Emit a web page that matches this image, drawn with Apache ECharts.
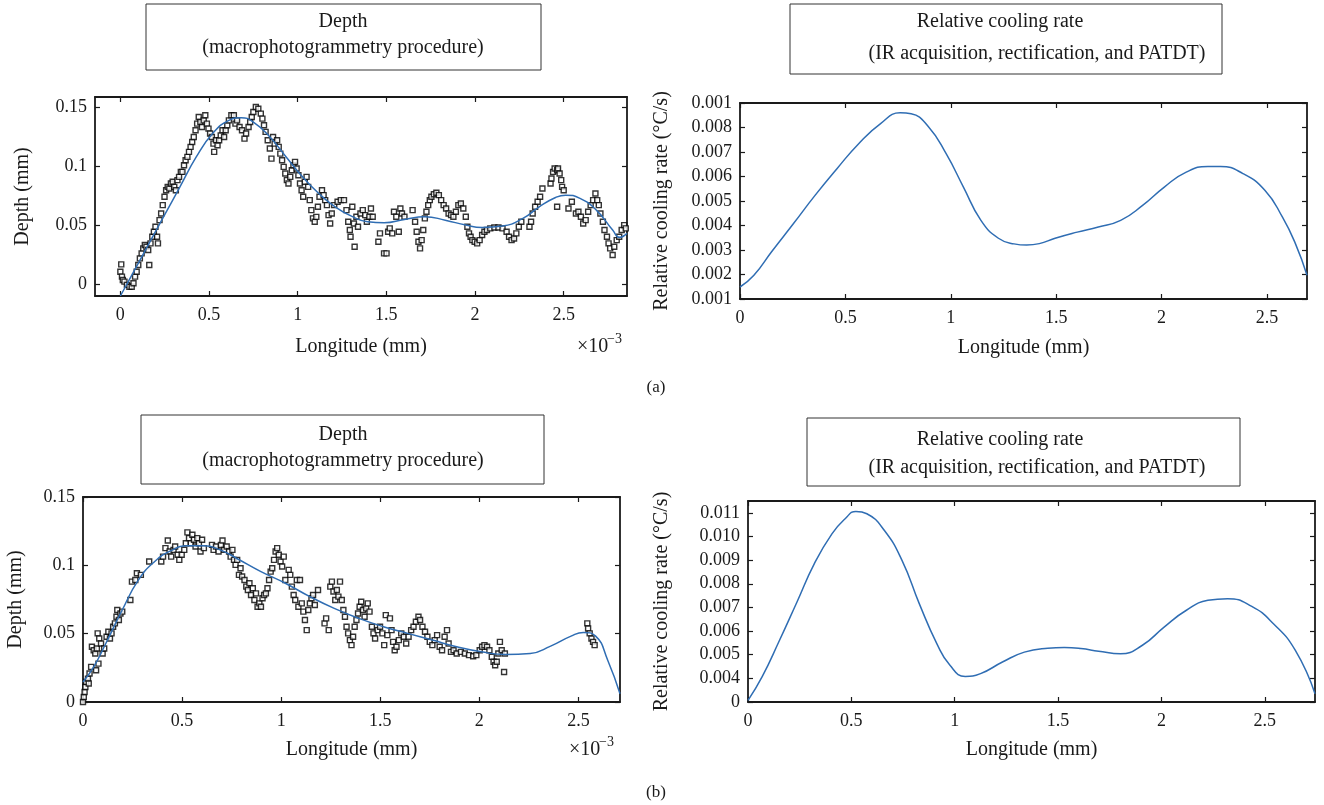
<!DOCTYPE html>
<html>
<head>
<meta charset="utf-8">
<title>Depth and relative cooling rate</title>
<script src="https://cdn.jsdelivr.net/npm/echarts@6/dist/echarts.min.js"></script>
<style>
html, body { margin: 0; padding: 0; background: #fff; }
#chart { width: 1324px; height: 805px; }
</style>
</head>
<body>
<div id="chart"></div>
<script>
// tick values and their printed labels
var longTicks = [0, 0.5, 1, 1.5, 2, 2.5];
var depthTicks = [0, 0.05, 0.1, 0.15];
var depthLabels = ['0', '0.05', '0.1', '0.15'];
var rateTicksA = [0.001, 0.002, 0.003, 0.004, 0.005, 0.006, 0.007, 0.008, 0.009];
var rateLabelsA = ['0.001', '0.002', '0.003', '0.004', '0.005', '0.006', '0.007', '0.008', '0.001'];
var rateTicksB = [0.003, 0.004, 0.005, 0.006, 0.007, 0.008, 0.009, 0.010, 0.011];
var rateLabelsB = ['0', '0.004', '0.005', '0.006', '0.007', '0.008', '0.009', '0.010', '0.011'];

// (a) measured depth points, longitude in 1e-3 mm, depth in mm
var aDepthPoints = [
  [0,0.0104],[0.005,0.0166],[0.009,0.0062],[0.014,0.0034],[0.023,0.002],[0.037,-0.0008],[0.051,-0.0023],[0.064,-0.0023],
  [0.074,0.0006],[0.083,0.0062],[0.092,0.0104],[0.101,0.0161],[0.11,0.0217],[0.12,0.0259],[0.129,0.0302],[0.138,0.033],
  [0.147,0.0316],[0.157,0.0288],[0.163,0.0161],[0.17,0.0344],[0.18,0.04],[0.189,0.0443],[0.198,0.0485],[0.207,0.04],
  [0.212,0.0344],[0.221,0.0541],[0.23,0.0598],[0.239,0.0668],[0.249,0.0739],[0.258,0.0795],[0.267,0.0823],[0.276,0.0809],
  [0.285,0.0852],[0.295,0.0866],[0.304,0.0823],[0.313,0.0795],[0.322,0.088],[0.331,0.0908],[0.341,0.095],[0.35,0.095],
  [0.359,0.1007],[0.368,0.1049],[0.378,0.1077],[0.387,0.112],[0.396,0.1162],[0.405,0.1204],[0.414,0.1246],[0.424,0.1303],
  [0.433,0.1359],[0.442,0.1416],[0.451,0.1373],[0.46,0.1331],[0.47,0.1387],[0.479,0.143],[0.488,0.1359],[0.497,0.1317],
  [0.506,0.1275],[0.516,0.1246],[0.525,0.119],[0.529,0.112],[0.539,0.1218],[0.548,0.1176],[0.557,0.1218],[0.566,0.126],
  [0.576,0.1303],[0.585,0.1246],[0.594,0.1303],[0.603,0.1345],[0.612,0.1387],[0.626,0.143],[0.64,0.143],[0.649,0.1359],
  [0.658,0.1387],[0.672,0.1331],[0.686,0.1303],[0.7,0.1232],[0.709,0.1275],[0.723,0.1331],[0.732,0.1373],[0.741,0.1416],
  [0.75,0.1458],[0.764,0.15],[0.778,0.1486],[0.792,0.1444],[0.801,0.1402],[0.81,0.1345],[0.819,0.1289],[0.831,0.1218],
  [0.843,0.1148],[0.852,0.1063],[0.861,0.1246],[0.87,0.119],[0.884,0.1218],[0.893,0.1162],[0.902,0.1105],[0.912,0.1049],
  [0.921,0.0993],[0.93,0.0936],[0.939,0.088],[0.948,0.0852],[0.958,0.0908],[0.967,0.0964],[0.976,0.1007],[0.985,0.1035],
  [0.994,0.0979],[1.004,0.0922],[1.013,0.0852],[1.022,0.0795],[1.031,0.0739],[1.04,0.0866],[1.05,0.0908],[1.059,0.0823],
  [1.068,0.0711],[1.077,0.0626],[1.086,0.0556],[1.096,0.0527],[1.105,0.0569],[1.114,0.0654],[1.123,0.0739],[1.137,0.0795],
  [1.146,0.0753],[1.155,0.0711],[1.165,0.0668],[1.174,0.0584],[1.183,0.0513],[1.192,0.0598],[1.206,0.0668],[1.225,0.0697],
  [1.243,0.0711],[1.261,0.0711],[1.275,0.0626],[1.285,0.0527],[1.294,0.0457],[1.298,0.04],[1.308,0.0654],[1.317,0.0513],
  [1.321,0.0316],[1.331,0.057],[1.34,0.0485],[1.354,0.0598],[1.367,0.0626],[1.381,0.0584],[1.39,0.0527],[1.404,0.057],
  [1.413,0.064],[1.423,0.057],[1.455,0.0358],[1.464,0.0429],[1.487,0.0259],[1.501,0.0259],[1.51,0.0443],[1.519,0.0471],
  [1.533,0.0429],[1.543,0.0612],[1.556,0.057],[1.57,0.0443],[1.579,0.064],[1.588,0.0598],[1.602,0.057],[1.648,0.0626],
  [1.662,0.0527],[1.671,0.0443],[1.681,0.0358],[1.69,0.0302],[1.699,0.0372],[1.708,0.0457],[1.717,0.0556],[1.726,0.0612],
  [1.736,0.0668],[1.745,0.0711],[1.754,0.0739],[1.768,0.0761],[1.782,0.0773],[1.796,0.0753],[1.809,0.0711],[1.823,0.0668],
  [1.837,0.064],[1.851,0.0598],[1.865,0.0584],[1.878,0.057],[1.892,0.0612],[1.906,0.0668],[1.92,0.0682],[1.934,0.064],
  [1.948,0.057],[1.957,0.0485],[1.966,0.0429],[1.975,0.04],[1.985,0.0372],[1.998,0.0358],[2.012,0.0344],[2.026,0.0372],
  [2.04,0.0415],[2.053,0.0443],[2.067,0.0457],[2.086,0.0471],[2.109,0.0479],[2.132,0.0479],[2.155,0.0471],[2.178,0.0443],
  [2.192,0.04],[2.206,0.0372],[2.22,0.0386],[2.233,0.0429],[2.247,0.0485],[2.261,0.0527],[2.307,0.0485],[2.316,0.0527],
  [2.325,0.0598],[2.339,0.0654],[2.353,0.0697],[2.367,0.0739],[2.38,0.0809],[2.426,0.0852],[2.431,0.0894],[2.44,0.095],
  [2.449,0.0979],[2.463,0.0964],[2.468,0.0979],[2.477,0.0936],[2.486,0.088],[2.491,0.0823],[2.5,0.0795],[2.463,0.0654],
  [2.527,0.064],[2.546,0.0697],[2.569,0.0598],[2.583,0.0612],[2.597,0.057],[2.61,0.0513],[2.624,0.0541],[2.638,0.0612],
  [2.652,0.0668],[2.666,0.0711],[2.679,0.0767],[2.689,0.0711],[2.698,0.0668],[2.707,0.0598],[2.721,0.0527],[2.73,0.0457],
  [2.744,0.04],[2.753,0.0344],[2.762,0.0302],[2.776,0.0245],[2.785,0.0316],[2.799,0.0372],[2.813,0.04],[2.827,0.0457],
  [2.841,0.0499],[2.85,0.0471]
];

// (a) fitted depth curve
var aDepthFit = [
  [0,-0.0102],[0.06,0.0062],[0.152,0.0316],[0.244,0.057],[0.336,0.0823],[0.428,0.1077],[0.52,0.1275],[0.612,0.1387],
  [0.681,0.141],[0.75,0.1373],[0.843,0.1246],[0.935,0.1077],[1.027,0.0908],[1.119,0.0767],[1.211,0.0654],[1.303,0.0575],
  [1.395,0.0527],[1.487,0.0519],[1.602,0.0547],[1.717,0.057],[1.832,0.0541],[1.948,0.0499],[2.04,0.0479],[2.155,0.0491],
  [2.27,0.0556],[2.362,0.0654],[2.454,0.0733],[2.511,0.0753],[2.592,0.0725],[2.684,0.0626],[2.776,0.0457],[2.815,0.0395],
  [2.857,0.0429]
];

// (a) relative cooling rate, degC/s
var aRate = [
  [0,0.00149],[0.066,0.00197],[0.149,0.00292],[0.253,0.00407],[0.356,0.00523],[0.46,0.00632],[0.563,0.00734],[0.667,0.00816],
  [0.76,0.0086],[0.812,0.00856],[0.895,0.00802],[0.978,0.00693],[1.06,0.00557],[1.143,0.00421],[1.226,0.00348],[1.3,0.00325],
  [1.36,0.0032],[1.42,0.00326],[1.495,0.00348],[1.6,0.00373],[1.7,0.00394],[1.806,0.00421],[1.91,0.00482],[2.013,0.00557],
  [2.117,0.00618],[2.22,0.00641],[2.28,0.00641],[2.386,0.00612],[2.49,0.00544],[2.573,0.00435],[2.635,0.00326],[2.69,0.00197]
];

// (b) measured depth points
var bDepthPoints = [
  [0,0],[0.004,0.0037],[0.008,0.0073],[0.012,0.011],[0.016,0.0147],[0.025,0.0171],[0.029,0.0135],[0.033,0.0208],
  [0.041,0.0257],[0.045,0.0404],[0.054,0.0379],[0.062,0.0355],[0.07,0.0392],[0.074,0.0502],[0.082,0.0465],[0.066,0.0232],
  [0.078,0.0281],[0.091,0.0428],[0.099,0.0355],[0.107,0.0392],[0.119,0.0477],[0.128,0.0514],[0.136,0.0465],[0.144,0.0502],
  [0.152,0.0551],[0.161,0.0575],[0.169,0.0624],[0.173,0.0673],[0.181,0.06],[0.189,0.0648],[0.198,0.0661],[0.239,0.0746],
  [0.247,0.0881],[0.264,0.0893],[0.272,0.0942],[0.292,0.093],[0.334,0.1028],[0.395,0.1028],[0.404,0.1064],[0.416,0.1126],
  [0.428,0.1182],[0.437,0.1101],[0.445,0.1064],[0.457,0.1113],[0.465,0.1138],[0.478,0.1077],[0.486,0.104],[0.498,0.1077],
  [0.511,0.1113],[0.519,0.1162],[0.527,0.1241],[0.535,0.1199],[0.544,0.1162],[0.552,0.1224],[0.56,0.1187],[0.568,0.1138],
  [0.577,0.1199],[0.585,0.1162],[0.593,0.1101],[0.601,0.1187],[0.61,0.1126],[0.651,0.115],[0.659,0.1113],[0.671,0.1138],
  [0.684,0.1101],[0.696,0.115],[0.704,0.1182],[0.713,0.1113],[0.725,0.1138],[0.737,0.1101],[0.745,0.1064],[0.754,0.1113],
  [0.762,0.104],[0.77,0.1003],[0.778,0.104],[0.787,0.093],[0.795,0.0979],[0.803,0.0918],[0.815,0.0893],[0.824,0.0844],
  [0.832,0.082],[0.84,0.0869],[0.848,0.0783],[0.857,0.0832],[0.865,0.0746],[0.873,0.0795],[0.881,0.0697],[0.89,0.0722],
  [0.898,0.0697],[0.906,0.0759],[0.914,0.0783],[0.923,0.0795],[0.931,0.0832],[0.939,0.0893],[0.947,0.0954],[0.955,0.0979],
  [0.964,0.104],[0.972,0.1101],[0.98,0.1126],[0.988,0.1077],[0.997,0.1028],[1.005,0.0991],[1.013,0.1064],[1.021,0.0893],
  [1.038,0.0967],[1.046,0.093],[1.054,0.0844],[1.063,0.0783],[1.071,0.0746],[1.079,0.0893],[1.087,0.0697],[1.095,0.0893],
  [1.104,0.0722],[1.112,0.0661],[1.12,0.06],[1.129,0.0526],[1.137,0.0673],[1.145,0.0722],[1.153,0.0759],[1.161,0.0783],
  [1.17,0.071],[1.186,0.082],[1.219,0.0575],[1.227,0.0612],[1.24,0.0526],[1.248,0.0844],[1.256,0.0881],[1.264,0.0808],
  [1.273,0.0746],[1.281,0.082],[1.289,0.0771],[1.297,0.0881],[1.306,0.0746],[1.314,0.0673],[1.322,0.0624],[1.33,0.0551],
  [1.338,0.0502],[1.347,0.0453],[1.355,0.0416],[1.363,0.0477],[1.371,0.0551],[1.38,0.06],[1.388,0.0648],[1.396,0.0697],
  [1.404,0.0734],[1.413,0.0673],[1.421,0.0624],[1.429,0.0685],[1.437,0.0722],[1.446,0.0661],[1.458,0.0551],[1.466,0.0502],
  [1.474,0.0465],[1.487,0.0526],[1.499,0.0551],[1.511,0.0502],[1.52,0.0416],[1.528,0.0636],[1.536,0.0489],[1.549,0.0612],
  [1.557,0.0526],[1.565,0.044],[1.573,0.0379],[1.582,0.0404],[1.594,0.0453],[1.606,0.0502],[1.619,0.0477],[1.631,0.0428],
  [1.643,0.0477],[1.656,0.0526],[1.668,0.0551],[1.68,0.0587],[1.693,0.0624],[1.701,0.06],[1.713,0.0551],[1.726,0.0514],
  [1.738,0.0477],[1.75,0.044],[1.763,0.0416],[1.775,0.0453],[1.787,0.0489],[1.8,0.0404],[1.812,0.0379],[1.825,0.0477],
  [1.837,0.0526],[1.845,0.0428],[1.857,0.0367],[1.87,0.0379],[1.886,0.0355],[1.907,0.0367],[1.927,0.0355],[1.948,0.0343],
  [1.969,0.0335],[1.985,0.0343],[2.002,0.0379],[2.014,0.0404],[2.026,0.0416],[2.039,0.0404],[2.051,0.0379],[2.063,0.033],
  [2.072,0.0294],[2.08,0.0269],[2.088,0.0294],[2.096,0.0355],[2.104,0.044],[2.113,0.0379],[2.125,0.022],[2.129,0.0355],
  [2.545,0.0575],[2.549,0.0538],[2.557,0.0502],[2.566,0.0465],[2.574,0.044],[2.582,0.0416]
];

// (b) fitted depth curve
var bDepthFit = [
  [0,0.0147],[0.054,0.0257],[0.115,0.0428],[0.198,0.0673],[0.28,0.0893],[0.362,0.1028],[0.445,0.1108],[0.527,0.1143],
  [0.61,0.1143],[0.692,0.1113],[0.774,0.1052],[0.898,0.0954],[1.021,0.0869],[1.145,0.0771],[1.268,0.0685],[1.392,0.0612],
  [1.516,0.0551],[1.639,0.0502],[1.763,0.0453],[1.886,0.0404],[2.01,0.0367],[2.133,0.0347],[2.257,0.0355],[2.36,0.0409],
  [2.463,0.0482],[2.525,0.0509],[2.587,0.0482],[2.648,0.0306],[2.71,0.0061]
];

// (b) relative cooling rate
var bRate = [
  [0,0.00307],[0.068,0.00406],[0.152,0.0056],[0.237,0.00723],[0.321,0.00885],[0.406,0.01011],[0.47,0.01075],[0.522,0.01106],
  [0.575,0.01096],[0.66,0.01025],[0.745,0.00899],[0.829,0.00715],[0.914,0.00546],[0.977,0.00455],[1.051,0.00408],[1.125,0.0042],
  [1.231,0.00469],[1.337,0.00511],[1.45,0.00527],[1.53,0.0053],[1.61,0.00526],[1.696,0.00515],[1.802,0.00504],[1.908,0.0054],
  [2.013,0.00617],[2.119,0.00687],[2.225,0.0073],[2.32,0.00737],[2.437,0.00704],[2.542,0.00631],[2.648,0.00518],[2.743,0.00335]
];

var font = 'Liberation Serif';
var ink = '#1a1a1a';
var blue = '#2f6db3';

function pick(ticks, labels) {
  return function (v) {
    for (var i = 0; i < ticks.length; i++) {
      if (Math.abs(ticks[i] - v) < 1e-9) return labels[i];
    }
    return '';
  };
}

// one visible axis plus a mirrored one that only carries inside ticks
function axisPair(grid, dim, min, max, ticks, formatter, name, gap) {
  var main = {
    gridIndex: grid, type: 'value', min: min, max: max,
    position: dim === 'x' ? 'bottom' : 'left',
    axisLine: { show: true, onZero: false, lineStyle: { color: ink, width: 1.8 } },
    axisTick: { show: true, inside: true, length: 5, customValues: ticks, lineStyle: { color: ink, width: 1.2 } },
    axisLabel: { show: true, customValues: ticks, formatter: formatter, margin: dim === 'x' ? 10 : 8,
      fontFamily: font, fontSize: 18, color: ink },
    splitLine: { show: false },
    name: name, nameLocation: 'middle', nameGap: gap,
    nameTextStyle: { fontFamily: font, fontSize: 20, color: ink }
  };
  var mirror = {
    gridIndex: grid, type: 'value', min: min, max: max,
    position: dim === 'x' ? 'top' : 'right',
    axisLine: { show: true, onZero: false, lineStyle: { color: ink, width: 1.8 } },
    axisTick: { show: true, inside: true, length: 5, customValues: ticks, lineStyle: { color: ink, width: 1.2 } },
    axisLabel: { show: false },
    splitLine: { show: false }
  };
  return [main, mirror];
}

var longFmt = function (v) { return String(+v.toFixed(2)); };

var xAxes = [].concat(
  axisPair(0, 'x', -0.143, 2.857, longTicks, longFmt, 'Longitude (mm)', 41),
  axisPair(1, 'x', 0, 2.69, longTicks, longFmt, 'Longitude (mm)', 39),
  axisPair(2, 'x', 0, 2.71, longTicks, longFmt, 'Longitude (mm)', 38),
  axisPair(3, 'x', 0, 2.743, longTicks, longFmt, 'Longitude (mm)', 38)
);
var yAxes = [].concat(
  axisPair(0, 'y', -0.0102, 0.1585, depthTicks, pick(depthTicks, depthLabels), 'Depth (mm)', 62),
  axisPair(1, 'y', 0.001, 0.009, rateTicksA, pick(rateTicksA, rateLabelsA), 'Relative cooling rate (\u00b0C/s)', 68),
  axisPair(2, 'y', 0, 0.15, depthTicks, pick(depthTicks, depthLabels), 'Depth (mm)', 57),
  axisPair(3, 'y', 0.003, 0.0115, rateTicksB, pick(rateTicksB, rateLabelsB), 'Relative cooling rate (\u00b0C/s)', 76)
);

function points(data, ax) {
  return {
    type: 'scatter', xAxisIndex: ax, yAxisIndex: ax, data: data,
    symbol: 'rect', symbolSize: 5,
    itemStyle: { color: '#fff', borderColor: '#000', borderWidth: 1.4 }
  };
}
function curve(data, ax) {
  return {
    type: 'line', xAxisIndex: ax, yAxisIndex: ax, data: data,
    smooth: 0.5, showSymbol: false, lineStyle: { color: blue, width: 1.5 }
  };
}

function titleBox(x, y, w, h, lines) {
  var els = [{ type: 'rect', shape: { x: x, y: y, width: w, height: h },
    style: { fill: '#fff', stroke: '#333', lineWidth: 1 } }];
  lines.forEach(function (l) {
    els.push({ type: 'text', x: l[1], y: l[2],
      style: { text: l[0], font: '20px "' + font + '"', fill: ink, align: 'center', verticalAlign: 'middle' } });
  });
  return els;
}
function timesTen(x, y) {
  return [
    { type: 'text', x: x, y: y, style: { text: '\u00d710', font: '20px "' + font + '"', fill: ink, verticalAlign: 'middle' } },
    { type: 'text', x: x + 30, y: y - 8, style: { text: '\u22123', font: '14px "' + font + '"', fill: ink, verticalAlign: 'middle' } }
  ];
}

var chart = echarts.init(document.getElementById('chart'));
chart.setOption({
  animation: false,
  backgroundColor: '#fff',
  grid: [
    { left: 95, top: 97, width: 532, height: 199 },
    { left: 740, top: 103, width: 567, height: 196 },
    { left: 83, top: 497, width: 537, height: 205 },
    { left: 748, top: 501, width: 567, height: 201 }
  ],
  xAxis: xAxes,
  yAxis: yAxes,
  series: [
    points(aDepthPoints, 0), curve(aDepthFit, 0),
    curve(aRate, 2),
    points(bDepthPoints, 4), curve(bDepthFit, 4),
    curve(bRate, 6)
  ],
  graphic: [].concat(
    titleBox(146, 4, 395, 66, [['Depth', 343, 22], ['(macrophotogrammetry procedure)', 343, 48]]),
    titleBox(790, 4, 432, 70, [['Relative cooling rate', 1000, 22], ['(IR acquisition, rectification, and PATDT)', 1037, 54]]),
    titleBox(141, 415, 403, 69, [['Depth', 343, 435], ['(macrophotogrammetry procedure)', 343, 461]]),
    titleBox(807, 418, 433, 68, [['Relative cooling rate', 1000, 440], ['(IR acquisition, rectification, and PATDT)', 1037, 468]]),
    timesTen(577, 347),
    timesTen(569, 750),
    [
      { type: 'text', x: 656, y: 388, style: { text: '(a)', font: '17px "' + font + '"', fill: ink, align: 'center', verticalAlign: 'middle' } },
      { type: 'text', x: 656, y: 793, style: { text: '(b)', font: '17px "' + font + '"', fill: ink, align: 'center', verticalAlign: 'middle' } }
    ]
  )
});
</script>
</body>
</html>
